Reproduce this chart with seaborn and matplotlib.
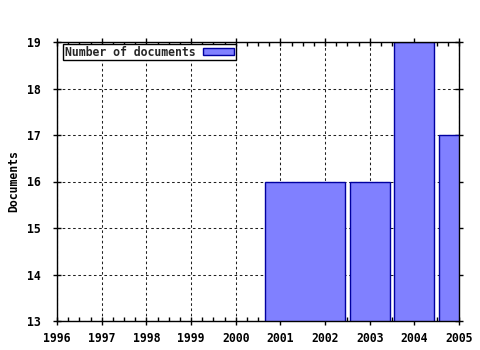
import matplotlib
matplotlib.use("Agg")
import matplotlib.pyplot as plt
from matplotlib.ticker import MultipleLocator
import seaborn as sns

# Data
bar_centers = [2001.55, 2003.0, 2004.0, 2005.0]
bar_widths = [1.8, 0.9, 0.9, 0.9]
documents = [16, 16, 19, 17]
x_ticks = [1996, 1997, 1998, 1999, 2000, 2001, 2002, 2003, 2004, 2005]
y_ticks = [13, 14, 15, 16, 17, 18, 19]
series_label = "Number of documents"

sns.set_theme(style="white")
plt.rcParams['font.family'] = ['DejaVu Sans Mono', 'DejaVu Sans']
plt.rcParams['font.weight'] = 'bold'

fig = plt.figure(figsize=(4.8, 3.5), dpi=100)
ax = fig.add_axes([57/480, 29/350, 402/480, 279/350])

ax.bar(bar_centers, documents, width=bar_widths, color="#8080ff",
       edgecolor="#0000a0", linewidth=1.0, label=series_label, zorder=2,
       bottom=0)

ax.set_xlim(1996, 2005)
ax.set_ylim(13, 19)
ax.set_xticks(x_ticks)
ax.set_yticks(y_ticks)
ax.set_xticklabels([str(t) for t in x_ticks], fontsize=8.3, fontweight='bold')
ax.set_yticklabels([str(t) for t in y_ticks], fontsize=8.3, fontweight='bold')
ax.xaxis.set_minor_locator(MultipleLocator(0.25))

ax.grid(True, which='major', color='#202020', linestyle=(0, (2.5, 2.5)), linewidth=0.75, zorder=1)
ax.set_axisbelow(True)

for sp in ax.spines.values():
    sp.set_color('black')
    sp.set_linewidth(1.0)
    sp.set_zorder(3)

ax.tick_params(axis='x', which='major', direction='inout', length=6, width=1,
               color='black', top=True, bottom=True, pad=5, labelcolor='black')
ax.tick_params(axis='x', which='minor', direction='in', length=3, width=1,
               color='black', top=True, bottom=True)
ax.tick_params(axis='y', which='major', direction='inout', length=6, width=1,
               color='black', left=True, right=True, pad=9, labelcolor='black')

fig.text(14/480, 0.5 * (29 + 308) / 350, "Documents", rotation=90,
         ha='center', va='center', fontsize=8.3, fontweight='bold', color='black')

leg = ax.legend(loc='upper left', bbox_to_anchor=(6.3/402, 1 - 2/279),
                borderaxespad=0, markerfirst=False, frameon=True, fancybox=False,
                prop={'size': 8.3, 'weight': 'bold', 'family': 'DejaVu Sans Mono'},
                handlelength=2.75, handleheight=0.5, handletextpad=0.6,
                borderpad=0.15, framealpha=1)
leg.get_frame().set_edgecolor('black')
leg.get_frame().set_linewidth(1.0)

fig.savefig("out.png", dpi=100, facecolor='white')
